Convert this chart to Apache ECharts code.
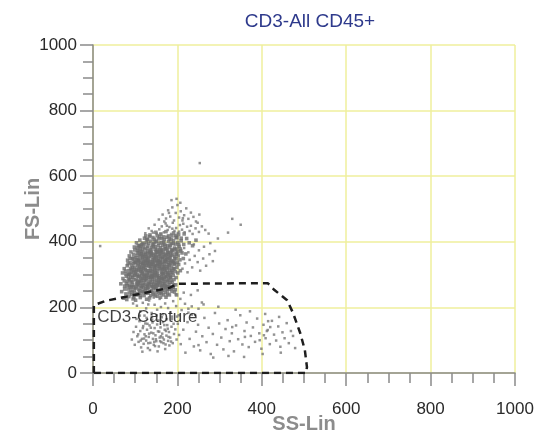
<!DOCTYPE html>
<html>
<head>
<meta charset="utf-8">
<script src="https://cdn.jsdelivr.net/npm/echarts@6/dist/echarts.min.js"></script>
<style>html,body{margin:0;padding:0;background:#fff}#c{width:545px;height:434px}</style>
</head>
<body>
<div id="c"></div>
<script>
const titleText = 'CD3-All CD45+';
const xName = 'SS-Lin';
const yName = 'FS-Lin';
const gateLabel = 'CD3-Capture';
const gateLabelPos = [10, 170];

const blobLow = [[72,228],[78,241],[85,233],[90,252],[95,226],[98,245],[104,238],[108,255],[112,230],[117,248],[121,236],[125,258],[130,243],[134,229],[139,251],[143,240],[148,257],[152,234],[157,249],[162,242],[166,259],[171,246],[176,253],[181,238],[186,257],[83,256],[101,222],[115,259],[127,225],[145,262],[160,231],[68,248],[92,239],[110,244],[137,236],[150,246],[173,231],[190,262],[80,224],[123,251]];
const blobMid1 = [[66,272],[71,288],[75,265],[79,295],[82,279],[86,268],[89,291],[93,276],[96,263],[99,298],[102,284],[105,270],[108,293],[111,278],[114,265],[117,289],[120,274],[123,297],[126,281],[129,268],[132,292],[135,277],[138,263],[141,286],[144,271],[147,299],[150,283],[153,266],[156,290],[159,275],[162,262],[165,288],[168,279],[171,267],[174,294],[177,283],[180,270],[184,291],[188,277],[192,285],[196,269],[74,281],[84,299],[91,262],[97,285],[103,273],[109,266],[115,296],[119,261],[124,287],[131,273],[136,296],[142,264],[146,280],[152,295],[158,268],[163,293],[169,284],[175,264],[182,298],[87,284],[94,292],[106,281],[113,274],[128,263],[140,293],[149,269],[155,278],[166,271],[179,287]];
const blobMid2 = [[70,305],[74,318],[78,302],[81,327],[85,312],[88,336],[91,307],[94,321],[97,333],[100,304],[103,316],[106,328],[109,339],[112,309],[115,322],[118,334],[121,301],[124,315],[127,327],[130,338],[133,306],[136,319],[139,331],[142,303],[145,317],[148,329],[151,340],[154,311],[157,324],[160,336],[163,308],[166,320],[169,333],[172,305],[175,318],[178,330],[182,313],[186,326],[190,337],[195,309],[199,322],[77,311],[83,333],[89,319],[95,308],[101,337],[107,313],[113,330],[119,318],[125,339],[131,312],[137,326],[143,338],[149,307],[155,331],[161,319],[167,303],[173,339],[180,321],[188,306],[92,329],[98,313],[104,300],[110,323],[116,311],[122,330],[128,305],[134,334],[140,314],[146,324],[152,302],[158,338],[164,314],[170,325],[176,307],[184,335],[193,318],[86,302],[203,331],[207,312]];
const blobMid3 = [[82,344],[86,357],[90,369],[93,348],[96,362],[99,375],[102,351],[105,366],[108,343],[111,358],[114,371],[117,346],[120,361],[123,378],[126,349],[129,364],[132,342],[135,356],[138,372],[141,345],[144,360],[147,377],[150,352],[153,367],[156,341],[159,356],[162,374],[165,348],[168,363],[171,379],[174,352],[177,368],[181,344],[185,359],[189,373],[193,350],[197,366],[202,357],[208,372],[214,349],[88,349],[97,341],[104,358],[112,379],[118,352],[124,343],[130,372],[137,363],[143,351],[149,369],[155,344],[161,365],[167,376],[173,346],[179,361],[186,376],[192,341],[199,378],[106,374],[115,363],[127,355],[134,368],[146,343],[152,376],[158,363],[164,353],[170,341],[176,375],[183,352],[220,363]];
const blobHigh = [[98,384],[103,397],[107,388],[111,405],[115,392],[119,383],[122,411],[126,398],[130,387],[134,416],[137,402],[141,391],[145,408],[148,385],[152,419],[156,396],[160,382],[163,410],[167,399],[171,387],[175,414],[179,401],[183,390],[187,418],[191,404],[195,393],[199,412],[204,386],[209,403],[215,392],[222,410],[228,397],[118,396],[129,406],[139,383],[150,402],[158,415],[169,406],[177,388],[186,395],[193,381],[201,398],[110,389],[125,418],[144,394],[165,389],[181,409],[196,419],[236,388],[244,405]];
const core2 = [[88,262],[93,247],[97,231],[101,259],[106,242],[113,236],[118,267],[121,283],[125,244],[129,256],[133,271],[136,249],[140,277],[143,259],[147,236],[151,271],[154,252],[158,284],[161,247],[164,266],[167,238],[170,273],[173,256],[177,242],[180,262],[183,276],[187,249],[191,268],[195,254],[198,238],
[79,273],[84,288],[87,301],[92,316],[95,297],[99,322],[102,309],[105,295],[109,318],[113,287],[116,303],[119,326],[122,293],[126,312],[129,299],[133,325],[137,291],[140,308],[144,296],[147,314],[151,327],[155,298],[158,318],[162,289],[165,303],[169,316],[172,294],[176,324],[179,304],[183,293],[187,314],[190,298],[194,331],[197,291],[201,305],
[96,351],[100,338],[104,345],[107,333],[111,349],[114,337],[118,356],[121,341],[125,362],[128,334],[132,352],[135,339],[139,358],[142,333],[146,349],[149,361],[153,335],[156,355],[160,346],[163,331],[167,355],[171,343],[174,362],[178,337],[181,354],[185,342],[189,361],[193,334],[197,348],[200,337],
[105,381],[109,369],[113,385],[117,372],[121,392],[124,367],[128,381],[132,395],[136,376],[140,364],[143,386],[147,399],[151,371],[155,388],[159,375],[162,397],[166,368],[170,393],[174,379],[178,366],[182,384],[186,371],[190,395],[194,377],[198,362],[203,391],[207,378],[211,366],
[128,408],[135,421],[142,413],[149,429],[155,409],[161,424],[167,415],[173,431],[179,418],[185,407],[191,427],[197,414],[203,422],[209,411],[216,424],
[75,256],[81,266],[86,244],[90,279],[94,268],[98,254],[103,263],[107,276],[111,251],[115,283],[119,247],[123,270],[127,288],[131,261],[135,284],[139,268],[142,246],[146,291],[150,261],[154,276],[157,243],[161,279],[165,252],[169,291],[172,262],[176,278],[181,255],[185,283],[189,261],[193,247],
[110,298],[114,315],[118,306],[123,321],[127,296],[131,329],[135,311],[139,297],[143,326],[147,305],[151,319],[155,290],[159,328],[163,301],[168,324],[172,313],[177,299],[181,331],[185,306],[190,318],
[107,344],[113,361],[119,335],[124,354],[130,346],[136,367],[141,339],[148,356],[153,344],[159,370],[165,338],[171,358],[177,349],[183,366],[188,340],[194,355],[201,369],[206,345]];
const haloLow = [[124,426],[132,441],[139,433],[146,452],[151,425],[157,438],[163,447],[168,429],[172,456],[177,436],[181,445],[185,424],[189,458],[193,433],[197,442],[201,427],[206,451],[211,437],[217,429],[223,446],[229,433],[236,424],[243,441],[251,430],[258,447],[266,436],[274,425],[142,428],[160,423],[175,449],[188,440],[204,431],[214,455],[232,449],[248,458]];
const haloHigh = [[156,468],[165,483],[173,471],[178,496],[183,477],[188,505],[192,465],[196,488],[200,512],[204,474],[208,493],[212,465],[216,481],[221,502],[226,470],[232,489],[238,476],[244,462],[252,483],[186,527],[198,531],[207,519],[169,462],[180,488],[213,472]];
const blobTail = [[212,318],[218,334],[224,307],[229,345],[235,322],[241,357],[248,338],[254,312],[261,349],[268,327],[276,362],[284,341],[216,381],[226,368],[239,392],[251,374],[263,385],[278,396],[289,372],[296,410]];
const outliers = [[17,387],[253,640],[330,470],[350,452],[320,428]];
const bridge = [[104,205],[112,188],[118,214],[126,197],[133,221],[139,183],[146,208],[152,193],[158,226],[165,179],[171,212],[178,198],[184,185],[190,219],[197,204],[203,176],[210,192],[218,211],[226,184],[234,203],[242,177],[250,196],[258,215],[122,175],[144,230],[161,201],[187,172],[207,226],[131,209],[95,212],[175,236],[196,240],[215,245],[232,238],[248,252]];
const lowCluster = [[92,102],[96,125],[99,86],[102,141],[105,112],[108,95],[110,158],[112,128],[114,78],[116,104],[118,137],[120,89],[122,118],[124,151],[126,99],[128,132],[130,76],[132,110],[134,145],[136,92],[138,123],[140,163],[142,104],[144,86],[146,137],[148,115],[150,97],[152,148],[154,127],[156,81],[158,108],[160,139],[162,94],[164,120],[166,155],[168,102],[170,132],[172,87],[174,114],[176,146],[178,98],[180,125],[183,108],[186,141],[189,91],[192,119],[195,133],[198,102],[201,150],[204,116],[107,118],[113,99],[119,143],[125,112],[131,91],[137,138],[143,121],[149,103],[155,160],[161,112],[167,91],[173,128],[179,110],[185,96],[191,150],[127,168],[139,172],[151,176],[163,170],[175,164],[117,65],[135,70],[153,66],[171,73],[145,95],[157,126],[133,120],[121,105],[165,108],[177,135],[141,154],[103,165],[187,165],[199,172],[147,82],[159,97],[169,146],[181,84],[129,150],[111,175]];
const rightSparse = [[208,88],[214,132],[219,62],[224,155],[229,104],[234,178],[239,81],[244,126],[249,147],[254,69],[259,112],[264,168],[269,94],[274,138],[279,58],[284,119],[289,183],[294,86],[299,151],[304,108],[309,72],[314,134],[319,161],[324,97],[329,121],[334,66],[339,145],[344,103],[349,176],[354,87],[359,128],[364,154],[369,79],[374,113],[379,139],[384,95],[389,166],[394,121],[399,74],[404,147],[409,106],[414,131],[419,88],[424,159],[429,117],[434,99],[439,142],[444,80],[449,124],[454,106],[459,152],[464,91],[469,128],[474,113],[479,76],[226,196],[262,209],[297,202],[338,193],[372,188],[408,180],[441,171],[285,47],[321,52],[358,49],[402,58],[445,62],[412,128],[405,115],[420,140],[395,100],[415,158],[250,85],[330,140],[360,110]];

const gate = [[2,0],[2,207],[30,220],[76,232],[182,260],[200,272],[414,274],[430,253],[460,222],[474,183],[491,122],[502,70],[507,18],[505,0],[2,0]];

const xTicks = [0,200,400,600,800,1000];
const yTicks = [0,200,400,600,800,1000];

const corePoints = [].concat(blobLow, blobMid1, blobMid2, blobMid3, blobHigh, core2);
const sparsePoints = [].concat(haloLow, haloHigh, blobTail, outliers, bridge, lowCluster, rightSparse);

const chart = echarts.init(document.getElementById('c'));
const font = 'Liberation Sans, Arial, sans-serif';
const axisCommon = {
  type: 'value', min: xTicks[0], max: xTicks[xTicks.length-1], interval: 200,
  axisLine: {show: true, lineStyle: {color: '#8a8a8a', width: 1.5}},
  axisTick: {show: true, length: 13, lineStyle: {color: '#8a8a8a', width: 1.5}},
  minorTick: {show: true, splitNumber: 4, length: 10, lineStyle: {color: '#8a8a8a', width: 1.5}},
  splitLine: {show: true, lineStyle: {color: '#efef9c', width: 1.5}},
  axisLabel: {color: '#2a2a2a', fontSize: 17, fontFamily: font, formatter: v => String(v)},
  nameTextStyle: {color: '#8c8c8c', fontSize: 20, fontWeight: 'bold', fontFamily: font},
  nameLocation: 'middle',
  nameMoveOverlap: false
};
chart.setOption({
  animation: false,
  backgroundColor: '#fff',
  title: {text: titleText, left: 305, top: 7, textAlign: 'center',
    textStyle: {color: '#2e3a8c', fontSize: 19, fontWeight: 'normal', fontFamily: font}},
  grid: {left: 93, right: 30, top: 45, bottom: 61, containLabel: false, outerBoundsMode: 'none'},
  xAxis: Object.assign({}, axisCommon, {name: xName, nameGap: 37, offset: 4,
    axisLabel: Object.assign({}, axisCommon.axisLabel, {margin: 24})}),
  yAxis: Object.assign({}, axisCommon, {min: yTicks[0], max: yTicks[yTicks.length-1], name: yName, nameGap: 50,
    axisLabel: Object.assign({}, axisCommon.axisLabel, {margin: 16})}),
  series: [
    {type: 'scatter', data: corePoints, symbol: 'rect', symbolSize: 3.6,
      itemStyle: {color: '#6e6e6e'}, silent: true},
    {type: 'scatter', data: sparsePoints, symbol: 'rect', symbolSize: 2.5,
      itemStyle: {color: '#787878'}, silent: true},
    {type: 'line', data: gate, showSymbol: false, silent: true,
      lineStyle: {color: '#1e1e1e', width: 2.5, type: [7, 5]}},
    {type: 'scatter', data: [gateLabelPos], symbolSize: 0, silent: true,
      label: {show: true, position: 'right', distance: 0, formatter: gateLabel, color: '#111', fontSize: 17, fontFamily: font}}
  ]
});
</script>
</body>
</html>
